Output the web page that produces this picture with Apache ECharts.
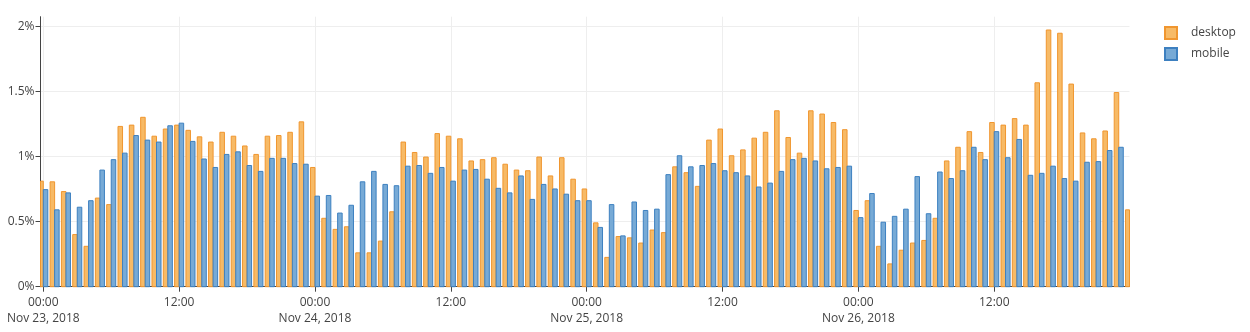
<!DOCTYPE html>
<html>
<head>
<meta charset="utf-8">
<script src="https://cdn.jsdelivr.net/npm/echarts@6/dist/echarts.min.js"></script>
<style>
html,body{margin:0;padding:0;background:#fff;}
#chart{width:1250px;height:332px;}
</style>
</head>
<body>
<div id="chart"></div>
<script>
// Hourly series, starting Nov 23, 2018 00:00 (UTC), one value per hour
var startTime = Date.UTC(2018, 10, 23, 0, 0, 0);
var HOUR = 3600 * 1000;

var desktop = [
  0.81, 0.805, 0.73, 0.40, 0.31, 0.68, 0.63, 1.23, 1.24, 1.30, 1.155, 1.21, 1.24, 1.20,
  1.15, 1.11, 1.185, 1.155, 1.08, 1.015, 1.155, 1.16, 1.185, 1.265,
  0.915, 0.525, 0.44, 0.46, 0.26, 0.26, 0.35, 0.575, 1.11, 1.03, 0.995, 1.175,
  1.155, 1.135, 0.965, 0.975, 0.99, 0.94, 0.895, 0.89, 0.995, 0.85, 0.99, 0.825,
  0.75, 0.49, 0.225, 0.385, 0.375, 0.335, 0.435, 0.415, 0.92, 0.875, 0.77, 1.125,
  1.21, 1.005, 1.05, 1.14, 1.185, 1.35, 1.145, 1.025, 1.35, 1.325, 1.26, 1.205,
  0.585, 0.66, 0.31, 0.175, 0.28, 0.335, 0.355, 0.525, 0.965, 1.07, 1.19, 1.03,
  1.26, 1.24, 1.29, 1.24, 1.565, 1.97, 1.945, 1.555, 1.18, 1.135, 1.195, 1.49,
  0.59
];

var mobile = [
  0.745, 0.59, 0.72, 0.61, 0.66, 0.895, 0.975, 1.025, 1.16, 1.125, 1.11, 1.235, 1.255, 1.115,
  0.98, 0.915, 1.015, 1.035, 0.93, 0.885, 0.985, 0.985, 0.945, 0.94,
  0.695, 0.70, 0.565, 0.625, 0.805, 0.885, 0.785, 0.775, 0.925, 0.93, 0.87, 0.915,
  0.81, 0.895, 0.90, 0.825, 0.755, 0.72, 0.85, 0.67, 0.785, 0.75, 0.71, 0.66,
  0.66, 0.455, 0.63, 0.39, 0.65, 0.585, 0.595, 0.86, 1.005, 0.92, 0.93, 0.945,
  0.89, 0.875, 0.85, 0.765, 0.795, 0.885, 0.975, 0.985, 0.965, 0.905, 0.915, 0.925,
  0.53, 0.715, 0.495, 0.54, 0.595, 0.845, 0.56, 0.88, 0.83, 0.89, 1.07, 0.975,
  1.19, 0.99, 1.13, 0.855, 0.87, 0.925, 0.83, 0.81, 0.955, 0.96, 1.045, 1.07,
  null
];

var seriesNames = ['desktop', 'mobile'];
var monthNames = ['Jan','Feb','Mar','Apr','May','Jun','Jul','Aug','Sep','Oct','Nov','Dec'];
var yTicks = [0, 0.5, 1, 1.5, 2];

var times = desktop.map(function (_, i) { return startTime + i * HOUR; });
function pairs(vals) { return vals.map(function (v, i) { return [times[i], v]; }); }
function pad(n) { return (n < 10 ? '0' : '') + n; }

var xMin = startTime - 0.247 * HOUR;
var xMax = startTime + 95.95 * HOUR;

var chart = echarts.init(document.getElementById('chart'), null, {renderer: 'canvas'});
var font = '"Open Sans", "Noto Sans", sans-serif';

// grouped bar drawn through the axes' own scales: side -1 = left half, +1 = right half
function barRenderer(side, fill, stroke) {
  return function (params, api) {
    var t = api.value(0), v = api.value(1);
    if (v == null || isNaN(v)) return null;
    var top = api.coord([t, v]);
    var base = api.coord([t, 0]);
    var band = api.size([HOUR, 0])[0];
    var w = band * 0.4;
    var x = side < 0 ? top[0] - w : top[0];
    var shape = echarts.graphic.clipRectByRect(
      {x: x, y: top[1], width: w, height: base[1] - top[1]},
      {x: params.coordSys.x, y: params.coordSys.y, width: params.coordSys.width, height: params.coordSys.height}
    );
    if (!shape) return null;
    return {
      type: 'rect',
      shape: shape,
      style: {fill: fill, stroke: stroke, lineWidth: 1}
    };
  };
}

var desktopFill = '#F7BA66', desktopLine = '#F0962F';
var mobileFill = '#77AAD6', mobileLine = '#3D80C0';

var option = {
  useUTC: true,
  animation: false,
  backgroundColor: '#fff',
  textStyle: {fontFamily: font, color: '#444'},
  grid: {left: 40.5, right: 120.5, top: 16.7, bottom: 45.3, containLabel: false},
  legend: {
    orient: 'vertical',
    left: 1159,
    top: 21,
    itemWidth: 12,
    itemHeight: 12,
    itemGap: 7,
    icon: 'rect',
    data: seriesNames,
    textStyle: {fontFamily: font, fontSize: 12, color: '#444', padding: [0, 0, 0, 9]}
  },
  xAxis: {
    type: 'time',
    min: xMin,
    max: xMax,
    splitNumber: 6,
    axisLine: {show: true, onZero: false, lineStyle: {color: '#444', width: 1}},
    axisTick: {show: true, length: 5, lineStyle: {color: '#444'}},
    splitLine: {show: true, showMinLine: false, showMaxLine: false, lineStyle: {color: '#eee', width: 1}},
    axisLabel: {
      showMinLabel: false,
      showMaxLabel: false,
      margin: 8,
      fontFamily: font,
      fontSize: 12,
      color: '#444',
      lineHeight: 16,
      hideOverlap: false,
      formatter: function (val) {
        if (val < xMin || val > xMax) return '';
        var d = new Date(val);
        var h = d.getUTCHours();
        if (d.getUTCMinutes() !== 0 || h % 12 !== 0) return '';
        var s = pad(h) + ':00';
        if (h === 0) {
          s += '\n' + monthNames[d.getUTCMonth()] + ' ' + d.getUTCDate() + ', ' + d.getUTCFullYear();
        }
        return s;
      }
    }
  },
  yAxis: {
    type: 'value',
    min: 0,
    max: 2.072,
    interval: 0.5,
    axisLine: {show: true, lineStyle: {color: '#444', width: 1}},
    axisTick: {show: true, length: 5, lineStyle: {color: '#444'}},
    splitLine: {show: true, showMinLine: false, showMaxLine: false, lineStyle: {color: '#eee', width: 1}},
    axisLabel: {
      showMaxLabel: false,
      margin: 6,
      fontFamily: font,
      fontSize: 12,
      color: '#444',
      formatter: function (v) {
        return yTicks.indexOf(v) >= 0 ? v + '%' : '';
      }
    }
  },
  series: [
    {
      name: seriesNames[0],
      type: 'custom',
      data: pairs(desktop),
      encode: {x: 0, y: 1},
      renderItem: barRenderer(-1, desktopFill, desktopLine),
      itemStyle: {color: desktopFill, borderColor: desktopLine, borderWidth: 1}
    },
    {
      name: seriesNames[1],
      type: 'custom',
      data: pairs(mobile),
      encode: {x: 0, y: 1},
      renderItem: barRenderer(1, mobileFill, mobileLine),
      itemStyle: {color: mobileFill, borderColor: mobileLine, borderWidth: 1}
    }
  ]
};
chart.setOption(option);
</script>
</body>
</html>
